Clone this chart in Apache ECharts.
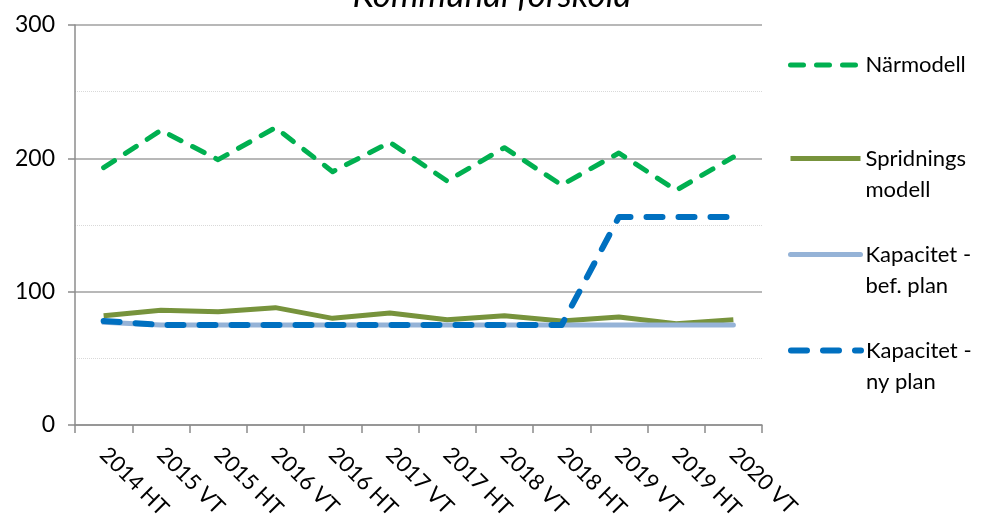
<!DOCTYPE html>
<html><head><meta charset="utf-8">
<script src="https://cdn.jsdelivr.net/npm/echarts@6/dist/echarts.min.js"></script>
<style>html,body{margin:0;padding:0;background:#fff}#c{width:984px;height:525px}</style>
</head><body><div id="c"></div>
<script>
var categories = ['2014 HT','2015 VT','2015 HT','2016 VT','2016 HT','2017 VT','2017 HT','2018 VT','2018 HT','2019 VT','2019 HT','2020 VT'];
var narmodell = [193, 221, 199, 223, 190, 212, 183, 208, 180, 204, 176, 201];
var spridning = [82, 86, 85, 88, 80, 84, 79, 82, 78, 81, 76, 79];
var kapBef = [77, 75, 75, 75, 75, 75, 75, 75, 75, 75, 75, 75];
var kapNy = [78, 75, 75, 75, 75, 75, 75, 75, 75, 156, 156, 156];
var yTicks = [0, 100, 200, 300];
var titleText = 'Kommunal förskola';

var FONT = 'Lato';
var chart = echarts.init(document.getElementById('c'), null, {renderer:'canvas'});
function leg(name, top, multi, ls) {
  return {
    data: [name], top: top, left: 788, orient: 'vertical',
    itemWidth: 70, itemHeight: 14, itemGap: 0, padding: 0,
    selectedMode: false,
    itemStyle: {opacity: 0},
    lineStyle: ls,
    formatter: multi ? function(n){ return '\n' + n; } : '{name}',
    textStyle: {fontFamily: FONT, fontSize: 22, color: '#000', lineHeight: 31}
  };
}
var greenLS = {color: '#00B050', width: 5, type: [13, 13], cap: 'round', join: 'round'};
var oliveLS = {color: '#77933C', width: 5, type: 'solid', cap: 'butt', join: 'round'};
var lightLS = {color: '#95B3D7', width: 5, type: 'solid', cap: 'round', join: 'round'};
var blueLS = {color: '#0070C0', width: 6, type: [16, 16], cap: 'round', join: 'round'};
chart.setOption({
  animation: false,
  title: {text: titleText, left: 'center', top: -27,
    textStyle: {fontFamily: FONT, fontStyle: 'italic', fontWeight: 'normal', fontSize: 35, color: '#000'}},
  legend: [
    leg('Närmodell', 49.5, false, {color: '#00B050', width: 5, type: [13, 13], cap: 'round'}),
    leg('Spridnings\nmodell', 112, true, {color: '#77933C', width: 5, type: 'solid', cap: 'butt'}),
    leg('Kapacitet -\nbef. plan', 208, true, {color: '#95B3D7', width: 5, type: 'solid', cap: 'round'}),
    leg('Kapacitet -\nny plan', 304, true, {color: '#0070C0', width: 6, type: [16, 16], cap: 'round'})
  ],
  grid: {left: 75, right: 222, top: 25, bottom: 100},
  xAxis: {
    type: 'category', data: categories, boundaryGap: true,
    axisLine: {lineStyle: {color: '#8c8c8c', width: 1.5}},
    axisTick: {show: true, length: 8, lineStyle: {color: '#8c8c8c', width: 1.5}},
    axisLabel: {rotate: -45, fontFamily: FONT, fontSize: 22, color: '#000', margin: 26, interval: 0}
  },
  yAxis: [{
    type: 'value', min: 0, max: 300, interval: 100,
    axisLine: {show: true, lineStyle: {color: '#8c8c8c', width: 1.5}},
    axisTick: {show: true, length: 7, lineStyle: {color: '#8c8c8c', width: 1.5}},
    axisLabel: {fontFamily: FONT, fontSize: 23, color: '#000', margin: 20,
      formatter: function(v){ return yTicks.indexOf(v) >= 0 ? String(v) : ''; }},
    splitLine: {show: true, lineStyle: {color: '#a0a0a0', width: 1.5}}
  }, {
    type: 'value', min: 0, max: 300, interval: 50, position: 'left', offset: 0,
    axisLine: {show: false},
    axisTick: {show: false},
    axisLabel: {show: false},
    splitLine: {show: true, lineStyle: {color: ['rgba(0,0,0,0)', '#d9d9d9'], width: 1, type: 'dotted'}}
  }],
  series: [
    {name: 'Närmodell', type: 'line', data: narmodell, symbol: 'none', z: 4,
      lineStyle: greenLS, itemStyle: {color: '#00B050'}},
    {name: 'Spridnings\nmodell', type: 'line', data: spridning, symbol: 'none', z: 3,
      lineStyle: oliveLS, itemStyle: {color: '#77933C'}},
    {name: 'Kapacitet -\nbef. plan', type: 'line', data: kapBef, symbol: 'none', z: 3,
      lineStyle: lightLS, itemStyle: {color: '#95B3D7'}},
    {name: 'Kapacitet -\nny plan', type: 'line', data: kapNy, symbol: 'none', z: 5,
      lineStyle: blueLS, itemStyle: {color: '#0070C0'}}
  ]
});
</script></body></html>
